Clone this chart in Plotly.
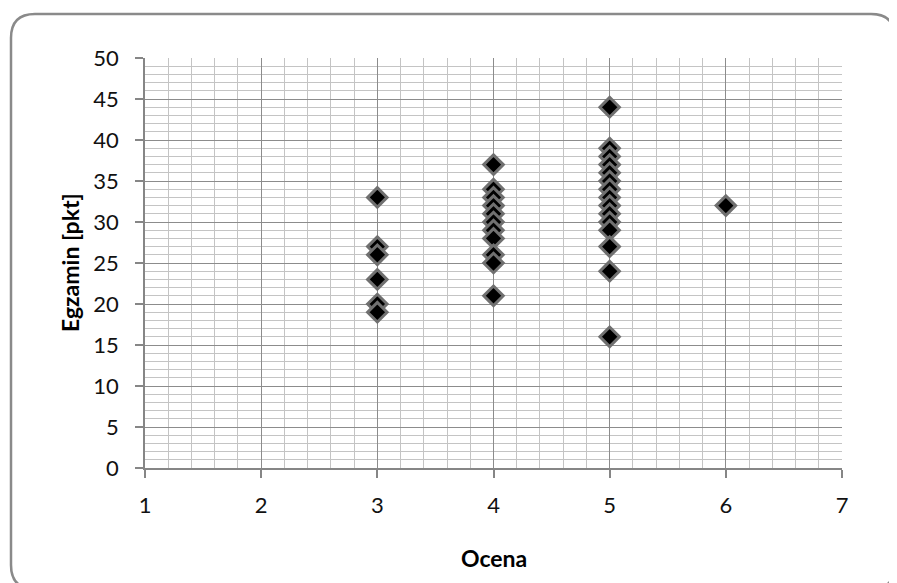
import plotly.graph_objects as go

# Data
grade_3 = [33, 27, 26, 23, 20, 19]
grade_4 = [37, 34, 33, 32, 31, 30, 29, 28, 26, 25, 21]
grade_5 = [44, 39, 38, 37, 36, 35, 34, 33, 32, 31, 30, 29, 27, 24, 16]
grade_6 = [32]

x_title = "Ocena"
y_title = "Egzamin [pkt]"

x_vals = [3] * len(grade_3) + [4] * len(grade_4) + [5] * len(grade_5) + [6] * len(grade_6)
y_vals = grade_3 + grade_4 + grade_5 + grade_6

# page body has an 8px margin; compensate
OFF = 8
W, H = 897 - OFF, 583 - OFF
L, T = 145 - OFF, 58 - OFF
pw, ph = 697, 410
R, B = W - L - pw, H - T - ph

FONT = "Lato, Liberation Sans, sans-serif"

fig = go.Figure()
fig.add_trace(go.Scatter(
    x=x_vals, y=y_vals, mode="markers",
    marker=dict(symbol="diamond", size=15, color="black",
                line=dict(color="#707070", width=3)),
    showlegend=False, hoverinfo="x+y",
))

axis_common = dict(
    showline=True, linecolor="#868686", linewidth=1.5,
    ticks="outside", ticklen=8, tickcolor="#868686", tickwidth=1.5,
    gridcolor="#8c8c8c", gridwidth=1.3,
    zeroline=False,
    tickfont=dict(family=FONT, size=22, color="#111"),
)

fig.update_xaxes(
    range=[1, 7], tick0=1, dtick=1,
    minor=dict(dtick=0.2, showgrid=True, gridcolor="#c4c4c4", gridwidth=1, ticks=""),
    ticklabelstandoff=9,
    **axis_common,
)
fig.update_yaxes(
    range=[0, 50], tick0=0, dtick=5,
    minor=dict(dtick=1, showgrid=True, gridcolor="#c4c4c4", gridwidth=1, ticks=""),
    ticklabelstandoff=12,
    **axis_common,
)

# axis titles placed as annotations
fig.add_annotation(text=f"<b>{x_title}</b>", xref="paper", yref="paper",
                   x=0.5, y=0, xanchor="center", yanchor="middle", yshift=-90,
                   showarrow=False, font=dict(family=FONT, size=23, color="black"))
fig.add_annotation(text=f"<b>{y_title}</b>", xref="paper", yref="paper",
                   x=0, y=0.5, xanchor="center", yanchor="middle", xshift=-75,
                   textangle=-90, showarrow=False,
                   font=dict(family=FONT, size=23, color="black"))

# Rounded outer chart border (pixel -> paper coordinates)
def px(x):
    return (x - OFF - L) / pw

def py(y):
    return (H - B - (y - OFF)) / ph

x0, y0, x1, y1, r = 11, 14, 895, 589, 24
path = (
    f"M {px(x0 + r)},{py(y0)} L {px(x1 - r)},{py(y0)} "
    f"Q {px(x1)},{py(y0)} {px(x1)},{py(y0 + r)} "
    f"L {px(x1)},{py(y1 - r)} "
    f"Q {px(x1)},{py(y1)} {px(x1 - r)},{py(y1)} "
    f"L {px(x0 + r)},{py(y1)} "
    f"Q {px(x0)},{py(y1)} {px(x0)},{py(y1 - r)} "
    f"L {px(x0)},{py(y0 + r)} "
    f"Q {px(x0)},{py(y0)} {px(x0 + r)},{py(y0)} Z"
)
fig.add_shape(type="path", path=path, xref="paper", yref="paper",
              line=dict(color="#8a8a8a", width=2.5), layer="below")

fig.update_layout(
    width=W, height=H,
    margin=dict(l=L, r=R, t=T, b=B),
    paper_bgcolor="white", plot_bgcolor="white",
    font=dict(family=FONT),
)

fig.write_html("out.html")
